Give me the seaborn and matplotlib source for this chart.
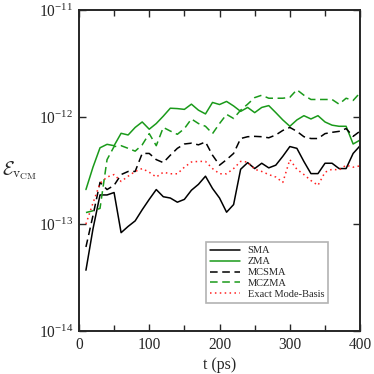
import numpy as np
import pandas as pd
import seaborn as sns
import matplotlib
matplotlib.use("Agg")
import matplotlib.pyplot as plt
from matplotlib.ticker import FixedLocator, MultipleLocator

sns.set_style("ticks")
plt.rcParams['font.family'] = ['Liberation Serif', 'DejaVu Serif']
plt.rcParams['mathtext.fontset'] = 'custom'
plt.rcParams['mathtext.rm'] = 'Liberation Serif'
plt.rcParams['mathtext.it'] = 'Liberation Serif:italic'
plt.rcParams['mathtext.default'] = 'regular'

t = list(range(10, 410, 10))

sma = [3.7e-14, 9.0e-14, 1.87e-13, 1.87e-13, 1.97e-13, 8.3e-14, 9.5e-14, 1.07e-13, 1.36e-13, 1.7e-13,
       2.1e-13, 1.8e-13, 1.75e-13, 1.6e-13, 1.7e-13, 2.07e-13, 2.35e-13, 2.8e-13, 2.15e-13, 1.75e-13,
       1.29e-13, 1.52e-13, 3.25e-13, 3.75e-13, 3.3e-13, 3.7e-13, 3.35e-13, 3.55e-13, 4.3e-13, 5.3e-13,
       5.1e-13, 3.84e-13, 2.96e-13, 2.96e-13, 3.7e-13, 3.7e-13, 3.3e-13, 3.3e-13, 4.57e-13, 5.4e-13]

zma = [2.1e-13, 3.4e-13, 5.16e-13, 5.56e-13, 5.4e-13, 7.05e-13, 6.8e-13, 8.0e-13, 9.0e-13, 7.7e-13,
       8.7e-13, 1.02e-12, 1.21e-12, 1.2e-12, 1.18e-12, 1.32e-12, 1.16e-12, 1.07e-12, 1.37e-12, 1.31e-12,
       1.4e-12, 1.27e-12, 1.13e-12, 1.23e-12, 1.1e-12, 1.23e-12, 1.28e-12, 1.1e-12, 9.4e-13, 8.2e-13,
       9.4e-13, 1.03e-12, 9.6e-13, 1.03e-12, 9.0e-13, 8.4e-13, 8.2e-13, 8.2e-13, 5.6e-13, 6.1e-13]

mcsma = [6.1e-14, 1.2e-13, 2.45e-13, 2.1e-13, 2.3e-13, 2.9e-13, 3.1e-13, 3.1e-13, 4.57e-13, 4.57e-13,
         4.0e-13, 3.75e-13, 4.4e-13, 5.1e-13, 5.6e-13, 5.7e-13, 5.5e-13, 5.85e-13, 4.4e-13, 3.55e-13,
         4.0e-13, 4.57e-13, 6.3e-13, 6.55e-13, 6.6e-13, 6.55e-13, 6.4e-13, 6.8e-13, 7.5e-13, 8.0e-13,
         7.35e-13, 6.55e-13, 6.3e-13, 6.3e-13, 7.0e-13, 7.2e-13, 7.35e-13, 7.8e-13, 6.6e-13, 7.4e-13]

mczma = [1.28e-13, 1.33e-13, 1.4e-13, 4.0e-13, 5.3e-13, 5.4e-13, 5.1e-13, 4.8e-13, 5.5e-13, 7.0e-13,
         5.4e-13, 8.0e-13, 7.4e-13, 6.9e-13, 7.8e-13, 9.6e-13, 8.7e-13, 8.2e-13, 7.0e-13, 8.7e-13,
         1.06e-12, 9.7e-13, 1.16e-12, 1.32e-12, 1.52e-12, 1.6e-12, 1.5e-12, 1.5e-12, 1.5e-12, 1.53e-12,
         1.8e-12, 1.6e-12, 1.46e-12, 1.46e-12, 1.46e-12, 1.46e-12, 1.32e-12, 1.5e-12, 1.43e-12, 1.69e-12]

exact = [1.0e-13, 1.57e-13, 2.4e-13, 2.75e-13, 2.9e-13, 2.5e-13, 2.8e-13, 3.1e-13, 3.3e-13, 3.05e-13,
         2.75e-13, 3.05e-13, 2.95e-13, 2.95e-13, 3.4e-13, 3.8e-13, 3.85e-13, 3.85e-13, 3.3e-13, 2.95e-13,
         2.95e-13, 3.3e-13, 3.85e-13, 3.8e-13, 3.25e-13, 3.1e-13, 2.9e-13, 2.75e-13, 2.45e-13, 4.0e-13,
         3.25e-13, 2.9e-13, 2.55e-13, 2.3e-13, 3.05e-13, 3.25e-13, 3.2e-13, 3.55e-13, 3.4e-13, 3.5e-13]

yticks = [1e-14, 1e-13, 1e-12, 1e-11]
labels = ["SMA", "ZMA", "MCSMA", "MCZMA", "Exact Mode-Basis"]
series = [sma, zma, mcsma, mczma, exact]
colors = ["black", "#1a9a1a", "black", "#1a9a1a", "#ff2020"]
styles = ["-", "-", (0, (5, 3)), (0, (5, 3)), (0, (1, 2.2))]

df = pd.DataFrame({"t": t * 5,
                   "val": sum(series, []),
                   "method": [l for l in labels for _ in t]})

fig = plt.figure(figsize=(3.74, 3.74), dpi=100)
ax = fig.add_axes([0.211, 0.115, 0.752, 0.858])

for lab, col, ls in zip(labels, colors, styles):
    sub = df[df.method == lab]
    sns.lineplot(data=sub, x="t", y="val", ax=ax, color=col, lw=1.1,
                 linestyle=ls, label=lab)

ax.set_yscale("log")
ax.set_xlim(0, 400)
ax.set_ylim(1e-14, 1e-11)
ax.xaxis.set_major_locator(MultipleLocator(100))
ax.xaxis.set_minor_locator(MultipleLocator(50))
ax.yaxis.set_major_locator(FixedLocator(yticks))
ax.yaxis.set_minor_locator(plt.NullLocator())
ax.set_yticklabels([r"$10^{%d}$" % int(np.log10(v)) for v in yticks])
ax.tick_params(which="both", direction="in", top=True, right=True, width=1.0,
               labelsize=11.2, pad=4)
ax.tick_params(which="major", length=5)
ax.tick_params(which="minor", length=4)
for s in ax.spines.values():
    s.set_linewidth(1.4)

ax.set_xlabel("t (ps)", fontsize=11.5, labelpad=3)
ax.set_ylabel(r"$\mathcal{E}_{\mathrm{v}_{\mathrm{CM}}}$", fontsize=14,
              rotation=0, ha="left", va="center", math_fontfamily="cm")
ax.yaxis.set_label_coords(-0.275, 0.5)

leg = ax.legend(loc="lower right", bbox_to_anchor=(0.887, 0.087), fontsize=7.5,
                frameon=True, fancybox=False, handlelength=2.9,
                borderpad=0.4, labelspacing=0.15, handletextpad=0.75,
                borderaxespad=0)
leg.get_frame().set_edgecolor("#a0a0a0")
leg.get_frame().set_linewidth(1.2)

fig.savefig("out.png", dpi=100)
